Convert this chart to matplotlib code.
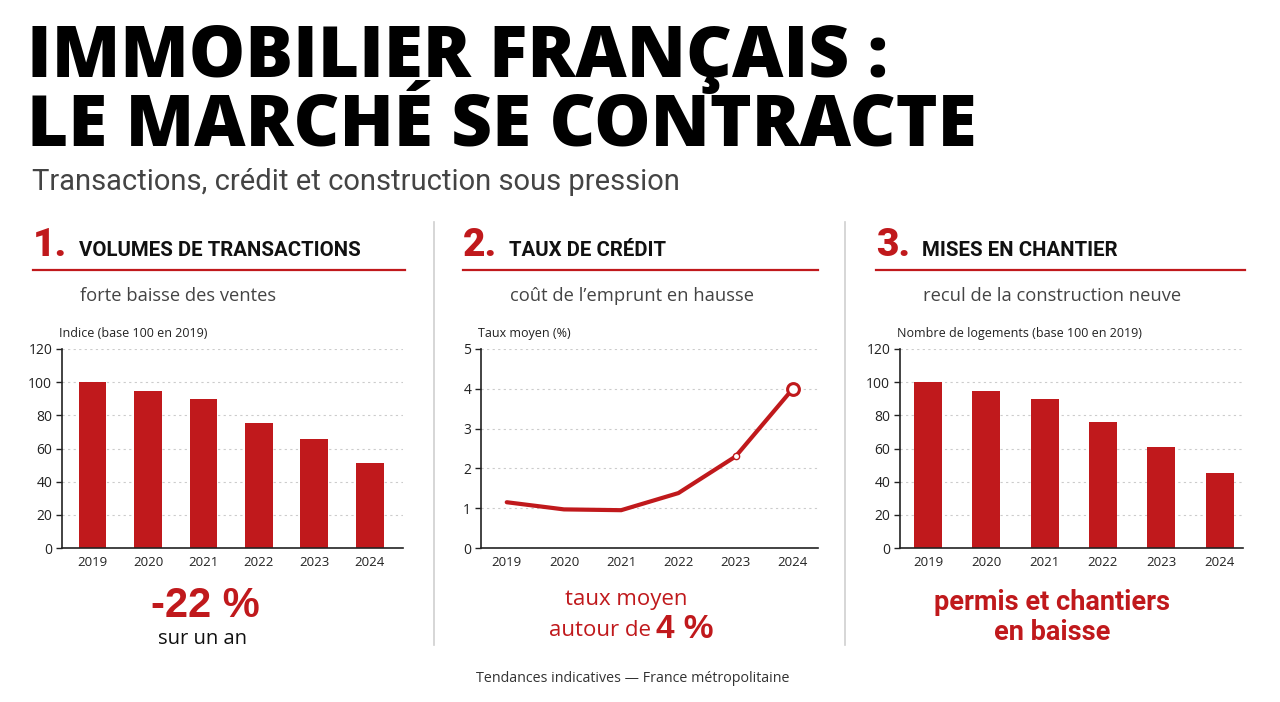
import matplotlib.pyplot as plt

# data
years = ["2019", "2020", "2021", "2022", "2023", "2024"]
transactions = [100, 94.5, 90, 75.5, 66, 51]
taux_credit = [1.15, 0.97, 0.95, 1.38, 2.3, 4.0]
mises_chantier = [100, 94.5, 90, 76, 61, 45.5]

RED = "#c0191c"
GREY = "#444444"
W, H = 1280, 702

fig = plt.figure(figsize=(W / 100, H / 100), dpi=100)
fig.patch.set_facecolor("white")


def px(x, y):
    return x / W, 1 - y / H


def add_ax(x0, x1, ytop, ybot):
    return fig.add_axes([x0 / W, 1 - ybot / H, (x1 - x0) / W, (ybot - ytop) / H])


def style_ax(ax, ylim, yticks, xlim, ylabel):
    ax.set_xlim(*xlim)
    ax.set_ylim(*ylim)
    ax.set_yticks(yticks)
    ax.set_xticks(range(len(years)))
    ax.set_xticklabels(years)
    for s in ["top", "right"]:
        ax.spines[s].set_visible(False)
    for s in ["left", "bottom"]:
        ax.spines[s].set_color("#222222")
        ax.spines[s].set_linewidth(1.2)
    ax.tick_params(axis="x", length=0, pad=6, labelsize=9.5, colors="#222222")
    ax.tick_params(axis="y", length=4, width=1, pad=3, labelsize=10, colors="#222222")
    for lab in ax.get_xticklabels() + ax.get_yticklabels():
        lab.set_family("Open Sans")
    ax.grid(axis="y", linestyle=(0, (2, 3)), color="#cccccc", linewidth=0.8)
    ax.set_axisbelow(True)
    ax.set_facecolor("none")
    ax.text(-0.01, 1.045, ylabel, transform=ax.transAxes, ha="left", va="bottom",
            fontsize=9, family="Open Sans", color="#222222")


# title block
fig.text(*px(27, 77), "IMMOBILIER FRANÇAIS :", fontsize=51, fontweight=800,
         family="Open Sans", color="black", va="baseline", ha="left")
fig.text(*px(27, 146), "LE MARCHÉ SE CONTRACTE", fontsize=51, fontweight=800,
         family="Open Sans", color="black", va="baseline", ha="left")
fig.text(*px(32, 182), "Transactions, crédit et construction sous pression", fontsize=21,
         family="Roboto", color=GREY, va="center", ha="left")

# panel headers
headers = [
    (33, 405, "1.", "VOLUMES DE TRANSACTIONS", "forte baisse des ventes"),
    (463, 818, "2.", "TAUX DE CRÉDIT", "coût de l’emprunt en hausse"),
    (876, 1245, "3.", "MISES EN CHANTIER", "recul de la construction neuve"),
]
for x0, x1, num, head, sub in headers:
    fig.text(*px(x0, 246), num, fontsize=28, fontweight="black", family="Roboto",
             color=RED, va="center", ha="left")
    fig.text(*px(x0 + 46, 250), head, fontsize=14.7, fontweight="bold", family="Roboto",
             color="#111111", va="center", ha="left")
    fig.add_artist(plt.Line2D([x0 / W, x1 / W], [1 - 270 / H] * 2, color=RED, lw=1.6))
    fig.text(*px(x0 + 47, 296), sub, fontsize=13.2, family="Open Sans",
             color=GREY, va="center", ha="left")

# vertical separators
for xs in [434, 845]:
    fig.add_artist(plt.Line2D([xs / W] * 2, [1 - 222 / H, 1 - 645 / H], color="#cfcfcf", lw=1.2))

x = range(len(years))

# panel 1
ax1 = add_ax(62, 403, 349, 548)
ax1.bar(x, transactions, width=0.5, color=RED)
style_ax(ax1, (0, 120), range(0, 121, 20), (-0.55, 5.6), "Indice (base 100 en 2019)")

# panel 2
ax2 = add_ax(481, 818, 349, 548)
ax2.plot(x, taux_credit, color=RED, lw=3, solid_capstyle="round", solid_joinstyle="round")
ax2.plot(4, taux_credit[4], marker="o", ms=4.5, mfc="white", mec=RED, mew=1)
ax2.plot(5, taux_credit[5], marker="o", ms=8.5, mfc="white", mec=RED, mew=2.2)
style_ax(ax2, (0, 5), range(0, 6), (-0.45, 5.44), "Taux moyen (%)")

# panel 3
ax3 = add_ax(900, 1243, 349, 548)
ax3.bar(x, mises_chantier, width=0.48, color=RED)
style_ax(ax3, (0, 120), range(0, 121, 20), (-0.48, 5.4), "Nombre de logements (base 100 en 2019)")

# bottom callouts
fig.text(*px(205, 606), "-22 %", fontsize=30, fontweight="bold", family="Liberation Sans",
         color=RED, va="center", ha="center")
fig.text(*px(203, 639), "sur un an", fontsize=14.5, family="Open Sans",
         color="#111111", va="center", ha="center")

fig.text(*px(626, 600), "taux moyen", fontsize=16, family="Open Sans",
         color=RED, va="center", ha="center")
fig.text(*px(549, 631), "autour de ", fontsize=16, family="Open Sans",
         color=RED, va="center", ha="left")
fig.text(*px(656, 629), "4 %", fontsize=24, fontweight="bold", family="Liberation Sans",
         color=RED, va="center", ha="left")

fig.text(*px(1052, 602), "permis et chantiers", fontsize=19.5, fontweight="bold",
         family="Roboto", color=RED, va="center", ha="center")
fig.text(*px(1052, 632), "en baisse", fontsize=19.5, fontweight="bold",
         family="Roboto", color=RED, va="center", ha="center")

fig.text(*px(633, 679), "Tendances indicatives — France métropolitaine", fontsize=10.3,
         family="Open Sans", color="#333333", va="center", ha="center")

fig.savefig("out.png", dpi=100, facecolor="white")
